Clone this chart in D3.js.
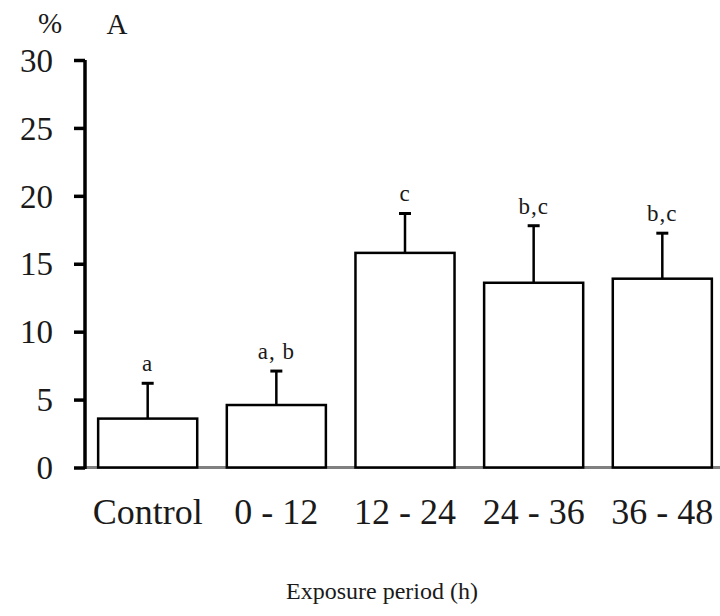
<!DOCTYPE html>
<html>
<head>
<meta charset="utf-8">
<script src="https://cdn.jsdelivr.net/npm/d3@7"></script>
<style>
  html, body { margin: 0; padding: 0; background: #fff; }
  svg { display: block; }
</style>
</head>
<body>
<svg id="chart" width="720" height="616"></svg>
<script>
// ---- data ----
const categories = ["Control", "0 - 12", "12 - 24", "24 - 36", "36 - 48"];
const means      = [3.6, 4.6, 15.8, 13.6, 13.9];
const errors     = [2.6, 2.5, 2.9, 4.2, 3.35];
const letters    = ["a", "a, b", "c", "b,c", "b,c"];
const yTicks     = [0, 5, 10, 15, 20, 25, 30];
const yUnit      = "%";
const panelLabel = "A";
const xTitle     = "Exposure period (h)";

const data = categories.map((c, i) => ({ cat: c, mean: means[i], err: errors[i], letter: letters[i] }));

const SERIF = "'Liberation Serif', 'Times New Roman', 'DejaVu Serif', serif";
const TEXT_FILL = "#1a1a1a";

// ---- layout ----
const svg = d3.select("#chart");
const axisX = 85;
const y = d3.scaleLinear().domain([0, 30]).range([467.5, 60]);
const x = d3.scaleBand().domain(categories).range([84, 726]).paddingInner(0.23).paddingOuter(0.11);

// baseline (gray)
svg.append("line")
  .attr("x1", axisX).attr("x2", 720)
  .attr("y1", y(0)).attr("y2", y(0))
  .attr("stroke", "#808080").attr("stroke-width", 3);

// bars
svg.selectAll("rect.bar").data(data).enter().append("rect")
  .attr("class", "bar")
  .attr("x", d => x(d.cat))
  .attr("width", x.bandwidth())
  .attr("y", d => y(d.mean))
  .attr("height", d => y(0) - y(d.mean))
  .attr("fill", "#fff")
  .attr("stroke", "#000")
  .attr("stroke-width", 2.5);

// error bars (upper only)
const eb = svg.selectAll("g.err").data(data).enter().append("g").attr("class", "err");
eb.append("line")
  .attr("x1", d => x(d.cat) + x.bandwidth() / 2)
  .attr("x2", d => x(d.cat) + x.bandwidth() / 2)
  .attr("y1", d => y(d.mean))
  .attr("y2", d => y(d.mean + d.err))
  .attr("stroke", "#000").attr("stroke-width", 2.5);
eb.append("line")
  .attr("x1", d => x(d.cat) + x.bandwidth() / 2 - 6)
  .attr("x2", d => x(d.cat) + x.bandwidth() / 2 + 6)
  .attr("y1", d => y(d.mean + d.err))
  .attr("y2", d => y(d.mean + d.err))
  .attr("stroke", "#000").attr("stroke-width", 3);

// significance letters
svg.selectAll("text.letter").data(data).enter().append("text")
  .attr("class", "letter")
  .attr("x", d => x(d.cat) + x.bandwidth() / 2)
  .attr("y", d => y(d.mean + d.err) - 12)
  .attr("text-anchor", "middle")
  .style("font-family", SERIF)
  .style("font-size", "23px")
  .style("letter-spacing", "1px")
  .style("fill", TEXT_FILL)
  .text(d => d.letter);

// y axis
const yAxis = d3.axisLeft(y).tickValues(yTicks).tickSize(11).tickPadding(21);
const gy = svg.append("g").attr("transform", `translate(${axisX},0)`).call(yAxis);
gy.select(".domain").attr("stroke", "#000").attr("stroke-width", 3.5)
  .attr("d", `M0,${y(30)}V${y(0) + 1.5}`);
gy.selectAll(".tick line").attr("stroke", "#000").attr("stroke-width", 3.5);
gy.selectAll(".tick text")
  .style("font-family", SERIF)
  .style("font-size", "33px")
  .style("fill", TEXT_FILL)
  .attr("dy", "0.34em");

// x axis labels
const xAxis = d3.axisBottom(x).tickSize(0).tickPadding(0);
const gx = svg.append("g").attr("transform", `translate(0,${y(0)})`).call(xAxis);
gx.select(".domain").remove();
gx.selectAll(".tick text")
  .style("font-family", SERIF)
  .style("font-size", "36px")
  .style("fill", TEXT_FILL)
  .attr("dy", 0)
  .attr("y", 56);

// titles
svg.append("text").attr("x", 382).attr("y", 599).attr("text-anchor", "middle")
  .style("font-family", SERIF).style("font-size", "24px").style("fill", TEXT_FILL).text(xTitle);
svg.append("text").attr("x", 50).attr("y", 33).attr("text-anchor", "middle")
  .style("font-family", SERIF).style("font-size", "29px").style("fill", TEXT_FILL).text(yUnit);
svg.append("text").attr("x", 117).attr("y", 34).attr("text-anchor", "middle")
  .style("font-family", SERIF).style("font-size", "29px").style("fill", TEXT_FILL).text(panelLabel);
</script>
</body>
</html>
